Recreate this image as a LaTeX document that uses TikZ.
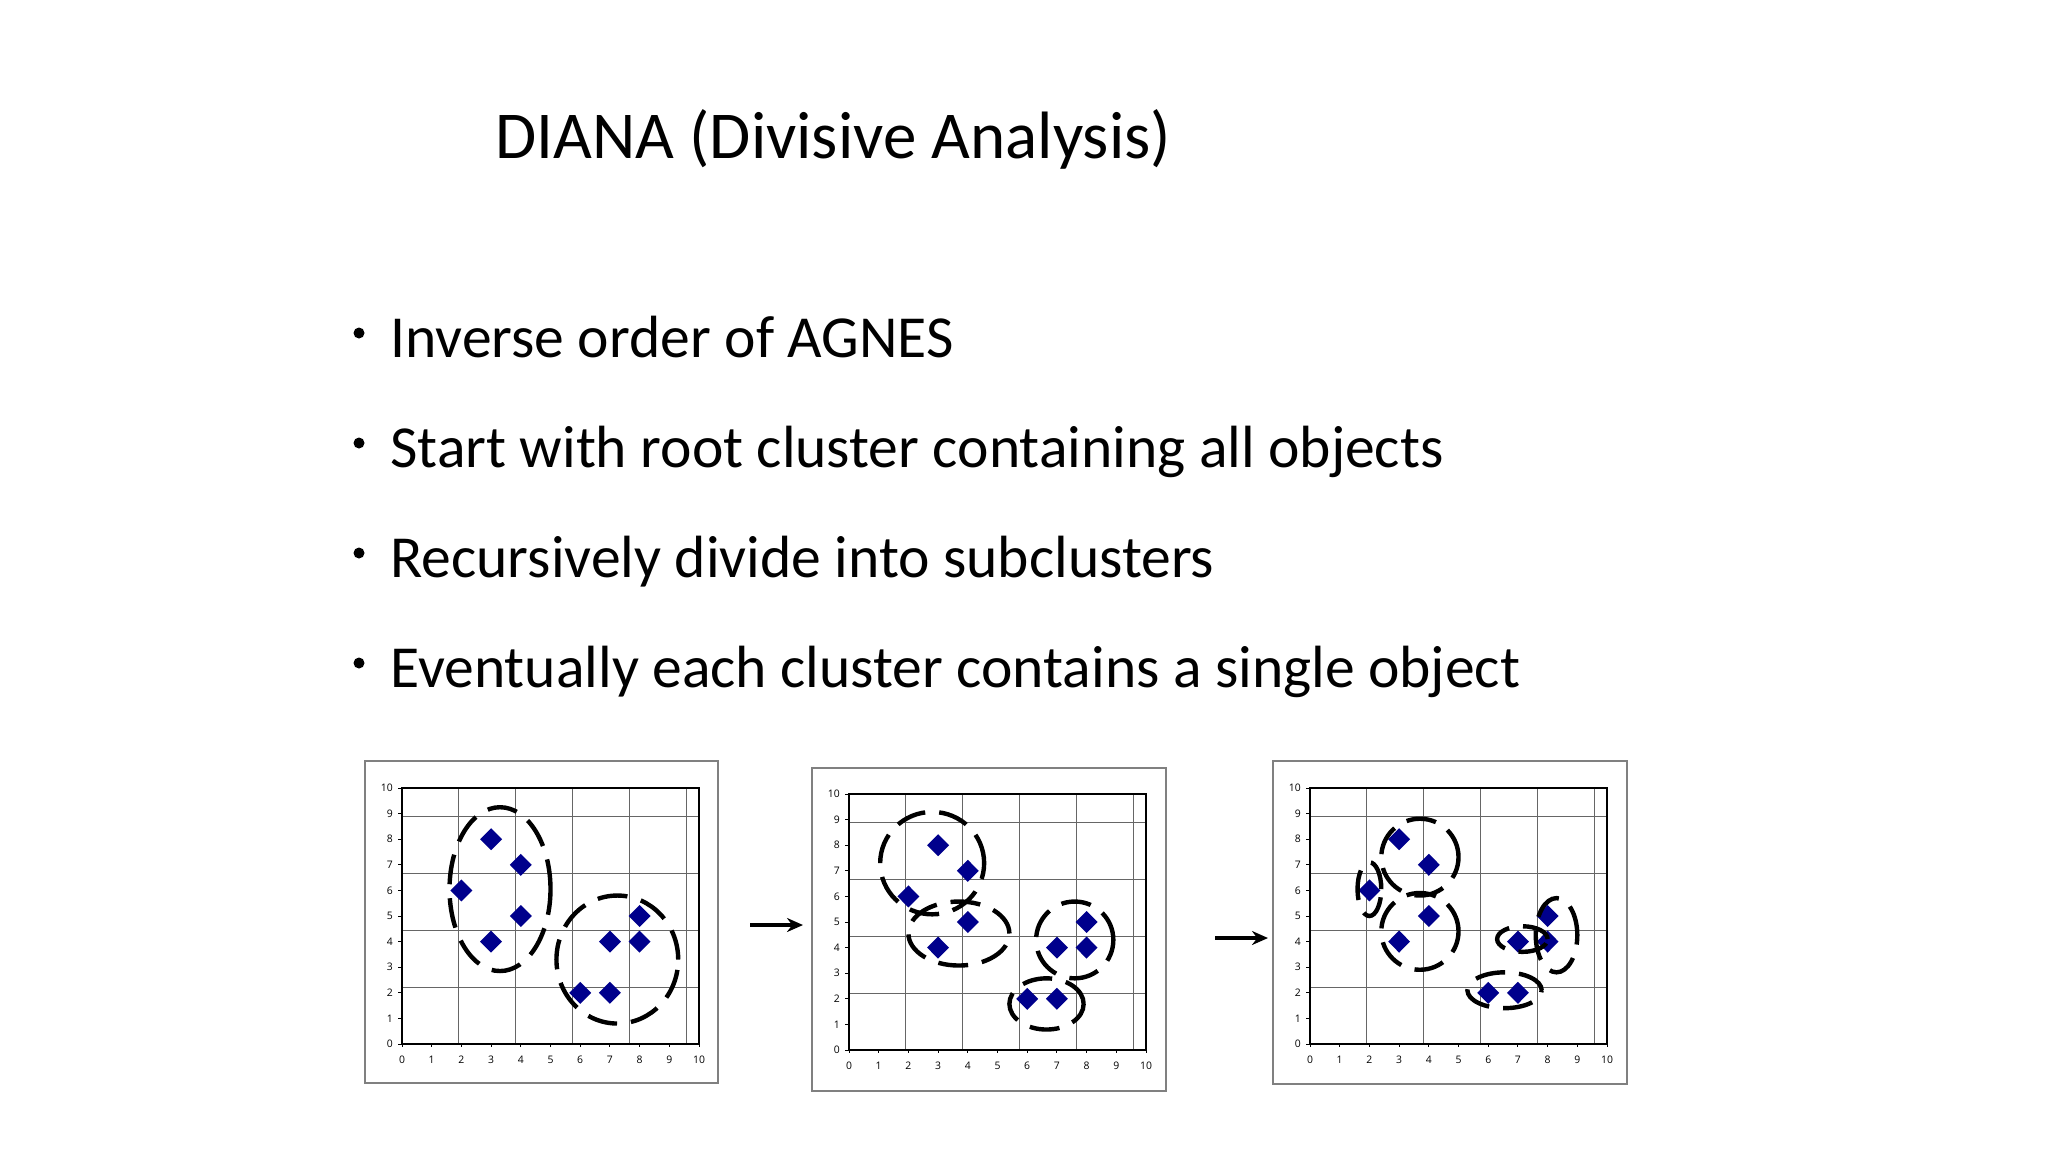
\documentclass[tikz,border=0pt]{standalone}
\usepackage{fontspec}
\usetikzlibrary{arrows.meta}
\setmainfont{Carlito}
\newfontfamily\tickfont{Open Sans}
\begin{document}
\begin{tikzpicture}[x=0.5pt,y=-0.5pt,
  clus/.style={line width=2.2pt,dash pattern=on 15pt off 7pt},
  pt/.style={fill={rgb,255:red,0;green,0;blue,140}},
  tick/.style={font=\tickfont\fontsize{5.2pt}{6pt}\selectfont,inner sep=0pt},
  bul/.style={anchor=base west,font=\fontsize{29.8pt}{34pt}\selectfont,inner sep=0pt},
  arr/.style={line width=1.6pt,-{Stealth[length=8pt,width=7pt]}}]
\useasboundingbox (0,0) rectangle (2048,1152);
\fill[white] (0,0) rectangle (2048,1152);
\node[anchor=base west,inner sep=0pt,font=\fontsize{33.5pt}{38pt}\selectfont] (title) at (495,158) {DIANA (Divisive Analysis)};
\foreach \t/\yy [count=\i] in {Inverse order of AGNES/357,Start with root cluster containing all objects/467,Recursively divide into subclusters/577,Eventually each cluster contains a single object/687}{
  \node[bul] (b\i) at (390,\yy) {\t};
  \fill (359,\yy-24) circle (5.5);
}
% frames
\draw[gray,line width=0.8pt] (365,761) rectangle (718,1083);
\draw[gray,line width=0.8pt] (812,768) rectangle (1166,1091);
\draw[gray,line width=0.8pt] (1273,761) rectangle (1627,1084);
% plots
\foreach \ox/\oy/\k in {402/1044/1,849/1050/2,1310/1044/3}{
\begin{scope}[shift={(\ox,\oy)},x={(14.85pt,0)},y={(0,12.8pt)}]
  \draw[gray!80!black,line width=0.5pt] (0,0) grid (10,10);
  \draw[line width=1.2pt] (0,0) rectangle (10,10);
  \foreach \n in {0,...,10}{
    \node[tick] at (\n,-0.6) {\n};
    \node[tick,anchor=east] at (-0.3,\n) {\n};
    \draw[line width=0.5pt] (\n,0) -- (\n,-0.12);
    \draw[line width=0.5pt] (0,\n) -- (-0.12,\n);
  }
  \foreach \px/\py in {2/6,3/8,4/7,4/5,3/4,6/2,7/2,7/4,8/4,8/5}{
    \fill[pt] (\px-0.37,\py) -- (\px,\py+0.43) -- (\px+0.37,\py) -- (\px,\py-0.43) -- cycle;
  }
  \ifnum\k=1
    \draw[clus] (3.3,6.05) ellipse [x radius=1.7,y radius=3.2];
    \draw[clus] (7.25,3.3) ellipse [x radius=2.05,y radius=2.5];
  \fi
  \ifnum\k=2
    \draw[clus] (2.8,7.3) ellipse [x radius=1.75,y radius=2.0];
    \draw[clus] (3.7,4.55) ellipse [x radius=1.7,y radius=1.25];
    \draw[clus] (7.6,4.3) ellipse [x radius=1.3,y radius=1.5];
    \draw[clus] (6.65,1.8) ellipse [x radius=1.25,y radius=1.0];
  \fi
  \ifnum\k=3
    \draw[clus] (2.0,6.05) ellipse [x radius=0.4,y radius=1.05];
    \draw[clus] (3.7,7.3) ellipse [x radius=1.3,y radius=1.5];
    \draw[clus] (3.7,4.4) ellipse [x radius=1.3,y radius=1.5];
    \draw[clus] (6.55,2.1) ellipse [x radius=1.25,y radius=0.7];
    \draw[clus] (7.15,4.1) ellipse [x radius=0.85,y radius=0.5];
    \draw[clus] (8.3,4.25) ellipse [x radius=0.7,y radius=1.45];
  \fi
\end{scope}}
\coordinate (a1s) at (750,925); \coordinate (a1e) at (803,925);
\coordinate (a2s) at (1215,938); \coordinate (a2e) at (1268,938);
\draw[arr] (a1s) -- (a1e);
\draw[arr] (a2s) -- (a2e);
\end{tikzpicture}
\end{document}
